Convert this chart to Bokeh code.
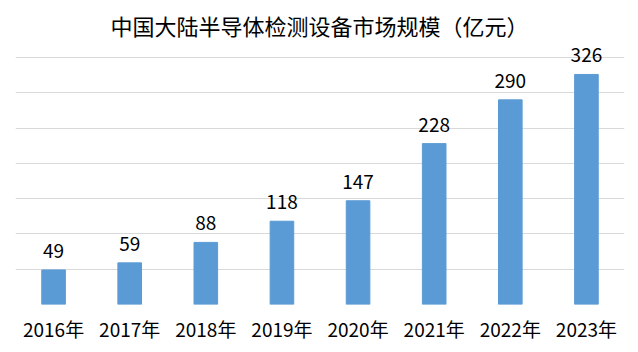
from bokeh.plotting import figure
from bokeh.models import ColumnDataSource, FactorRange, Range1d, Grid, FixedTicker, LabelSet, Label
from bokeh.core.properties import value
from bokeh.embed import file_html
from bokeh.resources import INLINE

years = ["2016年", "2017年", "2018年", "2019年", "2020年", "2021年", "2022年", "2023年"]
values = [49, 59, 88, 118, 147, 228, 290, 326]
grid_ticks = [0, 50, 100, 150, 200, 250, 300, 350]
title_text = "中国大陆半导体检测设备市场规模（亿元）"

FONT = "Noto Sans CJK SC"

src = ColumnDataSource(dict(x=years, top=values, label=[str(v) for v in values]))

p = figure(width=638, height=352, x_range=FactorRange(*years), y_range=Range1d(0, 430.8),
           output_backend="svg", toolbar_location=None, x_axis_location="below", y_axis_location=None,
           min_border_left=15, min_border_right=14, min_border_top=0, min_border_bottom=48)
p.outline_line_color = None
p.background_fill_color = "white"
p.border_fill_color = "white"
p.xgrid.visible = False
p.ygrid.visible = False
p.add_layout(Grid(dimension=1, ticker=FixedTicker(ticks=grid_ticks), grid_line_color="#d9d9d9", grid_line_width=1))

p.vbar(x="x", top="top", width=0.31, source=src, color="#5b9bd5")

labels = LabelSet(x="x", y="top", text="label", source=src, text_align="center", text_baseline="bottom",
                  y_offset=12, text_font=value(FONT), text_font_size=value("19px"), text_color=value("black"))
p.add_layout(labels)

ax = p.xaxis[0]
ax.axis_line_color = None
ax.major_tick_line_color = None
ax.minor_tick_line_color = None
ax.major_label_text_font = FONT
ax.major_label_text_font_size = "19px"
ax.major_label_text_color = "black"
ax.major_label_standoff = 4

title = Label(x=304, y=280, x_units="screen", y_units="screen", text=title_text, text_align="center",
              text_baseline="middle", text_font=FONT, text_font_size="22px", text_color="black")
p.add_layout(title)

open("out.html", "w").write(file_html(p, INLINE))
